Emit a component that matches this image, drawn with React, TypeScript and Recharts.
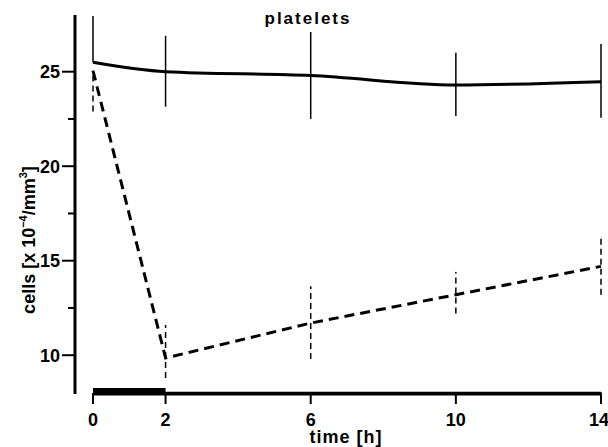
import React from 'react';
import { ComposedChart, Line, XAxis, YAxis, ErrorBar, ReferenceArea } from 'recharts';

const times = [0, 2, 6, 10, 14];
const controlCells = [25.5, 25.0, 24.8, 24.3, 24.47];
const controlErr = [[0, 2.45], [1.85, 1.9], [2.3, 2.3], [1.65, 1.7], [1.9, 2.0]];
const treatedCells = [25.05, 9.85, 11.7, 13.2, 14.7];
const treatedErr = [[2.15, 0], [1.05, 1.75], [1.9, 1.95], [1.0, 1.2], [1.5, 1.55]];
const xTicks = [0, 2, 6, 10, 14];
const yTicks = [10, 12.5, 15, 17.5, 20, 22.5, 25];
const yLabels = [10, 15, 20, 25];
const infusionPeriod = [0, 2];

const data = times.map((t, i) => ({
  time: t,
  control: controlCells[i],
  controlErr: controlErr[i],
  treated: treatedCells[i],
  treatedErr: treatedErr[i],
}));

const FONT = '"Liberation Sans", Arial, Helvetica, sans-serif';
const AXIS_GAP = 18;
const CHART_W = 608;
const MARGIN_R = 7;

const YTick = (props: any) => {
  const { x, y, payload } = props;
  const major = yLabels.includes(payload.value);
  const ax = x - AXIS_GAP;
  return (
    <g>
      <line x1={ax - (major ? 13 : 7)} x2={ax} y1={y} y2={y} stroke="#000" strokeWidth={2} />
      {major && (
        <text x={ax - 15} y={y} dy="0.36em" textAnchor="end" fontFamily={FONT} fontWeight="bold" fontSize={18} fill="#000">
          {payload.value}
        </text>
      )}
    </g>
  );
};

const YLabel = (props: any) => {
  const vb = props.viewBox || { x: 0, y: 15, width: 93, height: 378 };
  const ax = vb.x + vb.width - AXIS_GAP;
  const bottom = vb.y + vb.height;
  const left = vb.x + vb.width;
  return (
    <g>
      <line x1={ax} x2={ax} y1={vb.y} y2={bottom + 1} stroke="#000" strokeWidth={3} />
      <rect x={left} y={bottom - 0.5} width={CHART_W - MARGIN_R - left + 1} height={3} fill="#000" />
      <text x={35} y={240} transform="rotate(-90 35 240)" textAnchor="middle" fontFamily={FONT} fontWeight="bold" fontSize={18} fill="#000">
        cells [x 10<tspan dy={-8} fontSize={11}>−4</tspan>
        <tspan dy={8}>/mm</tspan>
        <tspan dy={-8} fontSize={11}>3</tspan>
        <tspan dy={8}>]</tspan>
      </text>
      <text x={308} y={24} textAnchor="middle" fontFamily={FONT} fontWeight="bold" fontSize={17} letterSpacing={2} fill="#000">
        platelets
      </text>
    </g>
  );
};

const XLabel = () => (
  <text x={346} y={443} textAnchor="middle" fontFamily={FONT} fontWeight="bold" fontSize={18} letterSpacing={1} fill="#000">
    time [h]
  </text>
);

export default function App() {
  return (
    <div style={{ position: 'absolute', left: 0, top: 0, width: CHART_W, height: 447, background: '#fff' }}>
      <ComposedChart width={CHART_W} height={447} data={data} margin={{ top: 15, right: MARGIN_R, bottom: 0, left: 0 }}>
        <XAxis
          dataKey="time"
          type="number"
          domain={[0, 14]}
          ticks={xTicks}
          axisLine={{ stroke: '#000', strokeWidth: 2.5 }}
          tickLine={{ stroke: '#000', strokeWidth: 2 }}
          tickSize={11}
          tickMargin={9}
          height={54}
          tick={{ fill: '#000', fontFamily: FONT, fontWeight: 'bold', fontSize: 18 }}
          label={<XLabel />}
        />
        <YAxis
          type="number"
          domain={[8, 28]}
          ticks={yTicks}
          width={93}
          axisLine={false}
          tickLine={false}
          tickSize={0}
          tickMargin={0}
          tick={<YTick />}
          interval={0}
          label={<YLabel />}
        />
        <ReferenceArea
          x1={infusionPeriod[0]}
          x2={infusionPeriod[1]}
          y1={7.9}
          y2={8.27}
          fill="#000"
          fillOpacity={1}
          stroke="none"
          ifOverflow="visible"
        />
        <Line
          dataKey="treated"
          type="linear"
          stroke="#000"
          strokeWidth={3}
          strokeDasharray="10 6"
          dot={false}
          activeDot={false}
          isAnimationActive={false}
        >
          <ErrorBar dataKey="treatedErr" direction="y" width={0} stroke="#000" strokeWidth={1.5} strokeDasharray="6 4" isAnimationActive={false} />
        </Line>
        <Line
          dataKey="control"
          type="monotone"
          stroke="#000"
          strokeWidth={3}
          dot={false}
          activeDot={false}
          isAnimationActive={false}
        >
          <ErrorBar dataKey="controlErr" direction="y" width={0} stroke="#000" strokeWidth={1.5} isAnimationActive={false} />
        </Line>
      </ComposedChart>
    </div>
  );
}
